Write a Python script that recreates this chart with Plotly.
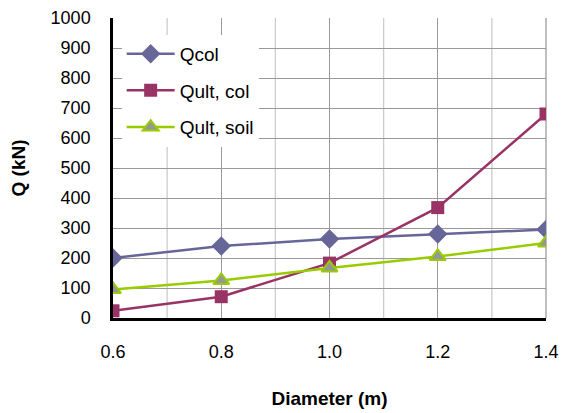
import plotly.graph_objects as go

diameter = [0.6, 0.8, 1.0, 1.2, 1.4]
q_col = [200, 240, 263, 280, 295]
q_ult_col = [24, 71, 183, 368, 680]
q_ult_soil = [95, 125, 167, 205, 250]

x_ticks = [0.6, 0.8, 1.0, 1.2, 1.4]
y_ticks = list(range(0, 1001, 100))

FONT = "Liberation Sans, Arial, sans-serif"

fig = go.Figure()

# minor vertical gridlines (lighter)
for xv in [0.7, 0.9, 1.1, 1.3]:
    fig.add_shape(type="line", xref="x", yref="paper", x0=xv, x1=xv, y0=0, y1=1,
                  line=dict(color="#cccccc", width=1.3), layer="below")

fig.add_trace(go.Scatter(
    x=diameter, y=q_col, name="Qcol", mode="lines+markers", legendgroup="a",
    line=dict(color="#666699", width=2.5),
    marker=dict(symbol="diamond", size=15, color="#666699", line=dict(width=0)),
))
fig.add_trace(go.Scatter(
    x=diameter, y=q_ult_col, name="Qult, col", mode="lines+markers", legendgroup="b",
    line=dict(color="#993366", width=2.5),
    marker=dict(symbol="square", size=13, color="#993366", line=dict(width=0)),
))
fig.add_trace(go.Scatter(
    x=diameter, y=q_ult_soil, name="Qult, soil", mode="lines+markers", legendgroup="c",
    line=dict(color="#99cc00", width=2.5),
    marker=dict(symbol="triangle-up", size=14, color="#969696",
                line=dict(color="#99cc00", width=2)),
))

fig.update_layout(
    width=561, height=413,
    margin=dict(l=113, r=15, t=18, b=95, autoexpand=False),
    paper_bgcolor="white", plot_bgcolor="white",
    font=dict(family=FONT, size=18, color="black"),
    showlegend=True,
    legend=dict(
        x=0.02, y=0.944, xanchor="left", yanchor="top",
        bgcolor="white", borderwidth=0,
        font=dict(size=19), tracegroupgap=9,
        itemwidth=48,
    ),
    xaxis=dict(
        range=[0.6, 1.4], tickvals=x_ticks, ticktext=[f"{v:.1f}" for v in x_ticks],
        showgrid=True, gridcolor="#999999", gridwidth=1.3,
        showline=True, linecolor="black", linewidth=2.5,
        zeroline=False, ticks="", ticklabelstandoff=16,
        automargin=False,
        title=dict(text="<b>Diameter (m)</b>", font=dict(size=19), standoff=31),
        mirror=False,
    ),
    yaxis=dict(
        range=[0, 1000], tickvals=y_ticks,
        showgrid=True, gridcolor="#999999", gridwidth=1.3,
        showline=True, linecolor="black", linewidth=2.5,
        zeroline=False, ticks="", ticklabelstandoff=16,
        automargin=False,
        title=dict(text="<b>Q (kN)</b>", font=dict(size=19), standoff=20),
    ),
)

# right border in gray
fig.add_shape(type="line", xref="paper", yref="paper", x0=1, x1=1, y0=0, y1=1,
              line=dict(color="#aaaaaa", width=1.5), layer="below")

fig.write_html("out.html")
